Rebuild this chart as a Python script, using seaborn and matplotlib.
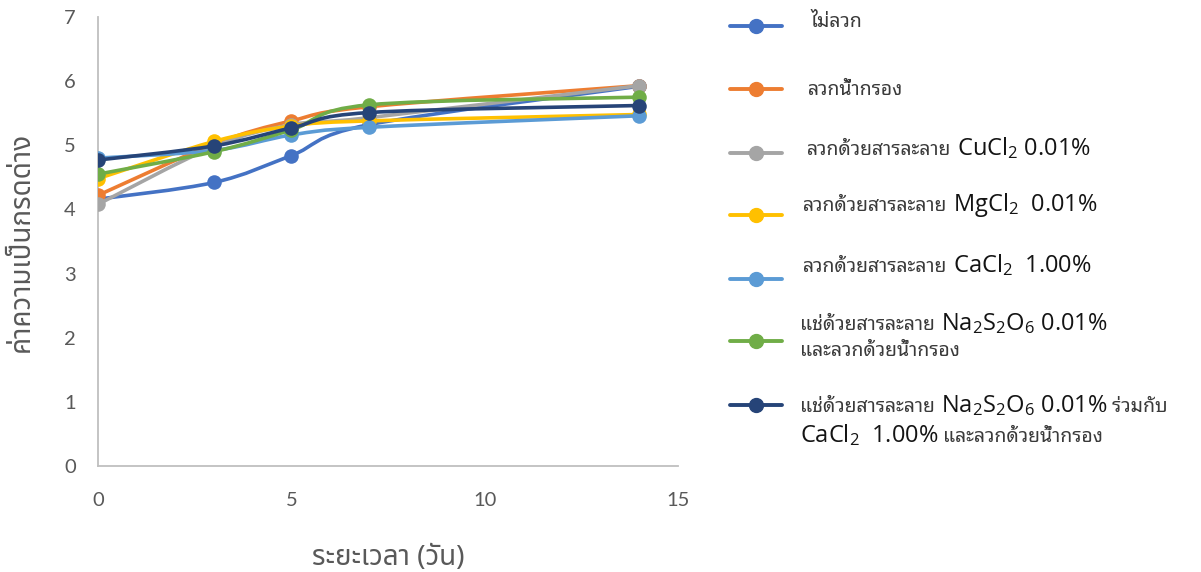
import re
import matplotlib
matplotlib.use('Agg')
import numpy as np
import seaborn as sns
import matplotlib.pyplot as plt
from matplotlib.path import Path
from matplotlib.patches import PathPatch
from matplotlib.lines import Line2D
from matplotlib.offsetbox import TextArea, HPacker, VPacker, AnchoredOffsetbox

days = [0, 3, 5, 7, 14]
not_blanched = [4.16, 4.42, 4.84, 5.32, 5.92]
filtered_water = [4.22, 5.02, 5.38, 5.60, 5.93]
cucl2 = [4.08, 4.98, 5.32, 5.43, 5.93]
mgcl2 = [4.48, 5.06, 5.30, 5.38, 5.48]
cacl2 = [4.80, 4.92, 5.16, 5.28, 5.46]
na2s2o6 = [4.55, 4.90, 5.24, 5.63, 5.75]
na2s2o6_cacl2 = [4.77, 4.99, 5.27, 5.51, 5.62]

labels = [
    'ไม่ลวก',
    'ลวกน้ำกรอง',
    'ลวกด้วยสารละลาย CuCl$_2$ 0.01%',
    'ลวกด้วยสารละลาย MgCl$_2$  0.01%',
    'ลวกด้วยสารละลาย CaCl$_2$  1.00%',
    'แช่ด้วยสารละลาย Na$_2$S$_2$O$_6$ 0.01%\nและลวกด้วยน้ำกรอง',
    'แช่ด้วยสารละลาย Na$_2$S$_2$O$_6$ 0.01% ร่วมกับ\nCaCl$_2$  1.00% และลวกด้วยน้ำกรอง',
]
series = [not_blanched, filtered_water, cucl2, mgcl2, cacl2, na2s2o6, na2s2o6_cacl2]
colors = ['#4472C4', '#ED7D31', '#A5A5A5', '#FFC000', '#5B9BD5', '#70AD47', '#264478']


def smooth_path(xs, ys):
    # Excel-style smoothed line: cubic bezier, tangents from neighbours
    pts = np.column_stack([xs, ys]).astype(float)
    ext = np.vstack([pts[0], pts, pts[-1]])
    verts = [pts[0]]
    codes = [Path.MOVETO]
    for i in range(len(pts) - 1):
        p0, p1, p2, p3 = ext[i], ext[i + 1], ext[i + 2], ext[i + 3]
        verts += [p1 + (p2 - p0) / 6, p2 - (p3 - p1) / 6, p2]
        codes += [Path.CURVE4] * 3
    return Path(verts, codes)


thai_props = dict(fontsize=14, color='#3a3a3a', family=['Noto Sans Thai Looped'])
latin_props = dict(fontsize=17, color='#141414', family=['Open Sans', 'DejaVu Sans'])


def label_box(text):
    # Thai runs and formula runs get different fonts/sizes, as in the original
    rows = []
    for line in text.split('\n'):
        parts = [p for p in re.split(r'([\u0E00-\u0E7F]+)', line) if p]
        areas = []
        carry = ''
        for p in parts:
            p = carry + p
            stripped = p.rstrip(' ')
            carry = p[len(stripped):]  # trailing blanks get dropped, so move them on
            thai = re.search(r'[\u0E00-\u0E7F]', stripped) is not None
            areas.append(TextArea(stripped, textprops=thai_props if thai else latin_props))
        rows.append(HPacker(children=areas, align='baseline', pad=0, sep=0))
    return VPacker(children=rows, align='left', pad=0, sep=3)


sns.set_style('white')
plt.rcParams['font.family'] = ['Lato', 'DejaVu Sans', 'Noto Sans Thai']
plt.rcParams['mathtext.fontset'] = 'custom'
plt.rcParams['mathtext.rm'] = 'Open Sans'
plt.rcParams['mathtext.default'] = 'rm'

fig = plt.figure(figsize=(12.01, 5.72), dpi=100)
ax = fig.add_axes([0.0816, 0.1853, 0.4829, 0.785])

for i, (vals, col) in enumerate(zip(series, colors)):
    ax.add_patch(PathPatch(smooth_path(days, vals), facecolor='none', edgecolor=col,
                           lw=2.6, zorder=2 + i, capstyle='round'))
    sns.scatterplot(x=days, y=vals, color=col, s=110, edgecolor=col, linewidth=0,
                    zorder=2.5 + i, ax=ax, legend=False)

ax.set_xlim(0, 15)
ax.set_ylim(0, 7)
ax.set_xticks([0, 5, 10, 15])
ax.set_yticks(range(8))
for side in ['top', 'right']:
    ax.spines[side].set_visible(False)
for side in ['left', 'bottom']:
    ax.spines[side].set_color('#BFBFBF')
    ax.spines[side].set_linewidth(1.3)
ax.tick_params(axis='x', length=0, pad=19, labelsize=14.5, labelcolor='#595959')
ax.tick_params(axis='y', length=0, pad=16, labelsize=14.5, labelcolor='#595959')
ax.grid(False)

ax.set_xlabel('ระยะเวลา (วัน)', fontsize=20, color='#595959', labelpad=25,
              family=['Noto Sans Thai'])
ax.set_ylabel('ค่าความเป็นกรดด่าง', fontsize=20, color='#595959',
              family=['Noto Sans Thai'])
ax.yaxis.set_label_coords(-0.107, 0.5)

# legend, laid out like the spreadsheet one
W, H = 1201, 572
handle_y = [26, 89, 153, 215, 279, 341, 405]
text_y = [22, 90, 148, 205, 265, 336, 421]
text_x = [810, 808, 807, 803, 803, 800, 800]
for lab, col, hy, ty, tx in zip(labels, colors, handle_y, text_y, text_x):
    fig.add_artist(Line2D([730 / W, 782 / W], [1 - hy / H, 1 - hy / H], color=col, lw=2.8,
                          solid_capstyle='round', transform=fig.transFigure))
    fig.add_artist(Line2D([756 / W], [1 - hy / H], color=col, marker='o', markersize=10,
                          transform=fig.transFigure))
    box = AnchoredOffsetbox(loc='center left', child=label_box(lab), pad=0, borderpad=0,
                            frameon=False, bbox_to_anchor=(tx / W, 1 - ty / H),
                            bbox_transform=fig.transFigure)
    fig.add_artist(box)

fig.savefig('out.png', dpi=100)
plt.close(fig)
